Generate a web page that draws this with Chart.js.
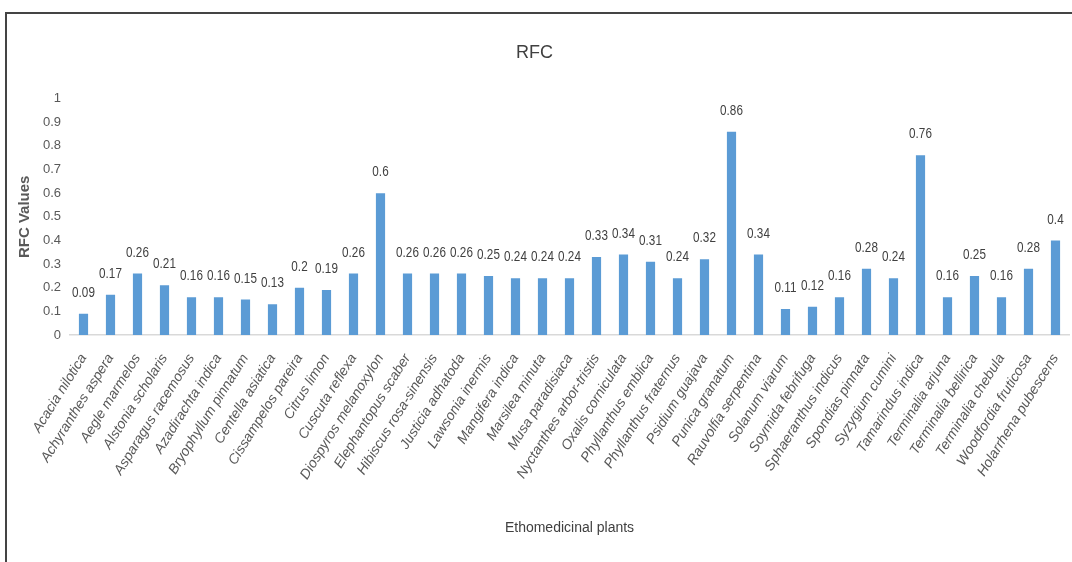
<!DOCTYPE html>
<html>
<head>
<meta charset="utf-8">
<script src="https://cdn.jsdelivr.net/npm/chart.js@4"></script>
<style>
  html, body { margin:0; padding:0; background:#fff; }
  #wrap { position:relative; width:1072px; height:562px; }
  #frame { position:absolute; left:5px; top:12px; right:0; bottom:0; border-left:2px solid #444; border-top:2px solid #444; pointer-events:none; }
  canvas { position:absolute; left:0; top:0; }
</style>
</head>
<body>
<div id="wrap">
  <canvas id="rfc" width="1072" height="562"></canvas>
  <div id="frame"></div>
</div>
<script>
// RFC values per plant
const plants = [
  'Acacia nilotica','Achyranthes aspera','Aegle marmelos','Alstonia scholaris','Asparagus racemosus',
  'Azadirachta indica','Bryophyllum pinnatum','Centella asiatica','Cissampelos pareira','Citrus limon',
  'Cuscuta reflexa','Diospyros melanoxylon','Elephantopus scaber','Hibiscus rosa-sinensis','Justicia adhatoda',
  'Lawsonia inermis','Mangifera indica','Marsilea minuta','Musa paradisiaca','Nyctanthes arbor-tristis',
  'Oxalis corniculata','Phyllanthus emblica','Phyllanthus fraternus','Psidium guajava','Punica granatum',
  'Rauvolfia serpentina','Solanum viarum','Soymida febrifuga','Sphaeranthus indicus','Spondias pinnata',
  'Syzygium cumini','Tamarindus indica','Terminalia arjuna','Terminalia bellirica','Terminalia chebula',
  'Woodfordia fruticosa','Holarrhena pubescens'
];
const rfcValues = [
  0.09,0.17,0.26,0.21,0.16,
  0.16,0.15,0.13,0.2,0.19,
  0.26,0.6,0.26,0.26,0.26,
  0.25,0.24,0.24,0.24,0.33,
  0.34,0.31,0.24,0.32,0.86,
  0.34,0.11,0.12,0.16,0.28,
  0.24,0.76,0.16,0.25,0.16,
  0.28,0.4
];
const yTicks = [0,0.1,0.2,0.3,0.4,0.5,0.6,0.7,0.8,0.9,1];

const sans = '"Liberation Sans", Arial, sans-serif';

// value labels above each bar, drawn a bit tall and narrow like the original
const barLabels = {
  id:'barLabels',
  afterDatasetsDraw(chart){
    const ctx = chart.ctx;
    const meta = chart.getDatasetMeta(0);
    ctx.save();
    ctx.font = '15px ' + sans;
    ctx.fillStyle = '#404040';
    ctx.textAlign = 'center';
    ctx.textBaseline = 'middle';
    meta.data.forEach((bar,i)=>{
      ctx.save();
      ctx.translate(bar.x, bar.y - 21);
      ctx.scale(0.78, 1);
      ctx.fillText(String(rfcValues[i]), 0, 0);
      ctx.restore();
    });
    ctx.restore();
  }
};

new Chart(document.getElementById('rfc'), {
  type:'bar',
  data:{ labels: plants, datasets:[{ data: rfcValues, backgroundColor:'#5B9BD5', categoryPercentage:1, barPercentage:0.34 }] },
  options:{
    responsive:false,
    animation:false,
    layout:{ padding:{ left:0, right:3, top:0, bottom:0 } },
    plugins:{
      legend:{ display:false },
      tooltip:{ enabled:false },
      title:{ display:true, text:'RFC', color:'#404040', font:{ family:sans, size:18, weight:'normal' }, padding:{ top:42, bottom:35 } }
    },
    scales:{
      x:{
        grid:{ display:false, drawTicks:false },
        border:{ color:'#D9D9D9', width:1.5 },
        ticks:{ color:'#595959', autoSkip:false, minRotation:58, maxRotation:58, padding:16,
          font:{ family:sans, style:'italic', size:14 } },
        title:{ display:true, text:'Ethomedicinal plants', color:'#404040', font:{ family:sans, size:14 }, padding:{ top:0, bottom:25 } },
        afterFit(s){ s.height = 227; s.paddingLeft = 0; s.paddingRight = 0; }
      },
      y:{
        min:0, max:1,
        afterBuildTicks(s){ s.ticks = yTicks.map(v=>({ value:v })); },
        grid:{ display:false, drawTicks:false },
        border:{ display:false },
        ticks:{ color:'#595959', padding:9, font:{ family:sans, size:13 }, callback:v=>String(+v.toFixed(1)) },
        title:{ display:true, text:'RFC Values', color:'#595959', font:{ family:sans, size:15, weight:'bold' }, padding:{ top:16, bottom:0 } },
        afterFit(s){ s.width = 70; }
      }
    }
  },
  plugins:[barLabels]
});
</script>
</body>
</html>
